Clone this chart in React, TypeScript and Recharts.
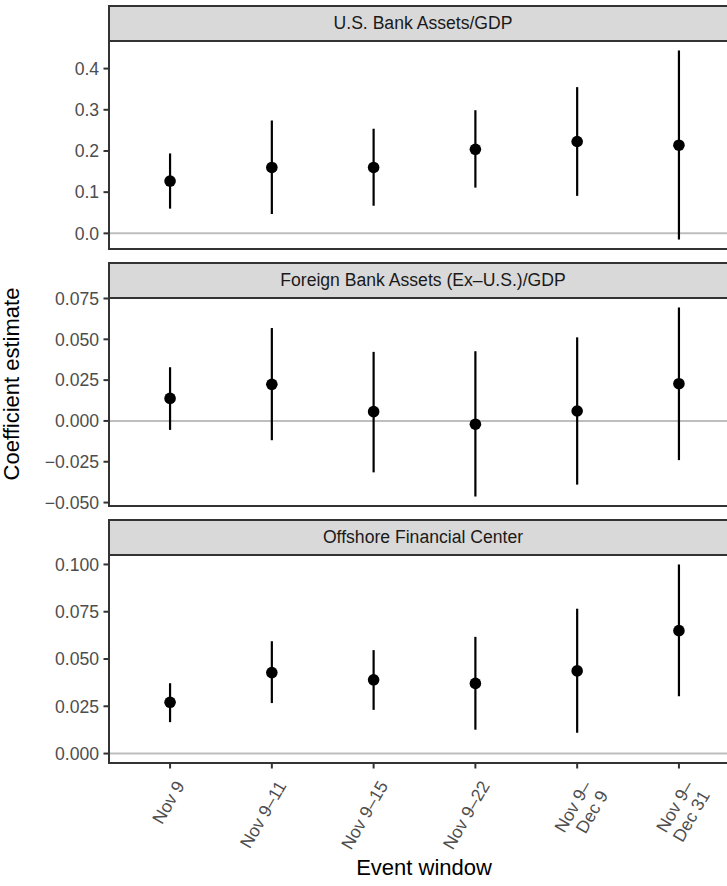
import React from 'react';
import {
  ScatterChart,
  Scatter,
  XAxis,
  YAxis,
  ErrorBar,
  ReferenceLine
} from 'recharts';

// event windows (x categories), "\n" marks a line break in the tick label
const windows = ['Nov 9', 'Nov 9–11', 'Nov 9–15', 'Nov 9–22', 'Nov 9–\nDec 9', 'Nov 9–\nDec 31'];

// U.S. bank assets / GDP
const usEst = [0.127, 0.16, 0.16, 0.204, 0.223, 0.214];
const usLow = [0.06, 0.047, 0.067, 0.111, 0.091, -0.015];
const usHigh = [0.194, 0.274, 0.254, 0.299, 0.355, 0.444];

// foreign bank assets (ex-U.S.) / GDP
const fbEst = [0.0138, 0.0224, 0.0057, -0.002, 0.0061, 0.0228];
const fbLow = [-0.0055, -0.0118, -0.0315, -0.0463, -0.039, -0.024];
const fbHigh = [0.0329, 0.0569, 0.0423, 0.0427, 0.0512, 0.0695];

// offshore financial center
const ofcEst = [0.0271, 0.0428, 0.039, 0.0371, 0.0437, 0.065];
const ofcLow = [0.0166, 0.0267, 0.0231, 0.0126, 0.011, 0.0303];
const ofcHigh = [0.0372, 0.0594, 0.0547, 0.0617, 0.0766, 0.1];

const usTicks = [0, 0.1, 0.2, 0.3, 0.4];
const fbTicks = [-0.05, -0.025, 0, 0.025, 0.05, 0.075];
const ofcTicks = [0, 0.025, 0.05, 0.075, 0.1];

const xTicks = [1, 2, 3, 4, 5, 6];

const SMALL = 17.6;
const BIG = 22;
const PLOT_LEFT = 109;
const CHART_W = 740;
const PLOT_H = 208;
const STRIP_H = 36;
const PAD = 14;

const makeRows = (est: number[], low: number[], high: number[]) =>
  est.map((e, i) => ({ x: i + 1, y: e, err: [e - low[i], high[i] - e] }));

const fmtMinus = (digits: number) => (v: number) => {
  const s = Math.abs(v).toFixed(digits);
  return v < 0 ? '\u2212' + s : s;
};

const PointShape = (props: any) => (
  <circle cx={props.cx} cy={props.cy} r={5.8} fill="#000" />
);

const XTick = (props: any) => {
  const { x, y, payload } = props;
  const lines = windows[payload.value - 1].split('\n');
  return (
    <g transform={`translate(${x + 2},${y + 5}) rotate(-60)`}>
      <text textAnchor="end" fill="#4D4D4D" fontSize={SMALL}>
        {lines.map((l, i) => (
          <tspan key={i} x={0} y={15 + i * 19}>
            {l}
          </tspan>
        ))}
      </text>
    </g>
  );
};

interface PanelProps {
  title: string;
  top: number;
  rows: Array<{ x: number; y: number; err: number[] }>;
  domain: [number, number];
  ticks: number[];
  digits: number;
  showX?: boolean;
}

const Panel: React.FC<PanelProps> = ({ title, top, rows, domain, ticks, digits, showX }) => {
  const plotTop = top + STRIP_H;
  const axisH = showX ? 100 : 0;
  return (
    <>
      <div
        style={{
          position: 'absolute',
          left: PLOT_LEFT - 1,
          top: top,
          width: 700,
          height: STRIP_H + 1,
          boxSizing: 'border-box',
          border: '2px solid #333333',
          background: '#D9D9D9',
          color: '#1A1A1A',
          fontSize: SMALL,
          display: 'flex',
          alignItems: 'center',
          justifyContent: 'center'
        }}
      >
        <span style={{ marginLeft: -70 }}>{title}</span>
      </div>
      <div style={{ position: 'absolute', left: 0, top: plotTop - PAD }}>
        <ScatterChart
          width={CHART_W}
          height={PLOT_H + PAD + (showX ? axisH : PAD)}
          margin={{ top: PAD, right: 0, bottom: showX ? 0 : PAD, left: 0 }}
        >
          <XAxis
            dataKey="x"
            type="number"
            domain={[0.4, 6.6]}
            ticks={xTicks}
            hide={!showX}
            height={axisH}
            axisLine={false}
            tickLine={{ stroke: '#333333', strokeWidth: 2 }}
            tickSize={5.5}
            tickMargin={4.4}
            tick={<XTick />}
            interval={0}
          />
          <YAxis
            dataKey="y"
            type="number"
            domain={domain}
            ticks={ticks}
            width={PLOT_LEFT}
            allowDataOverflow
            axisLine={false}
            tickLine={{ stroke: '#333333', strokeWidth: 2 }}
            tickSize={5.5}
            tickMargin={4.4}
            tickFormatter={fmtMinus(digits)}
            tick={{ fill: '#4D4D4D', fontSize: SMALL }}
            interval={0}
          />
          <ReferenceLine y={0} stroke="#BEBEBE" strokeWidth={2} />
          <Scatter data={rows} isAnimationActive={false} shape={<PointShape />}>
            <ErrorBar
              dataKey="err"
              direction="y"
              width={0}
              stroke="#000"
              strokeWidth={2.2}
              isAnimationActive={false}
            />
          </Scatter>
        </ScatterChart>
      </div>
      <div
        style={{
          position: 'absolute',
          left: PLOT_LEFT - 1,
          top: plotTop - 1,
          width: 700,
          height: PLOT_H + 2,
          boxSizing: 'border-box',
          border: '2px solid #333333',
          pointerEvents: 'none'
        }}
      />
    </>
  );
};

export default function App() {
  return (
    <div
      style={{
        position: 'absolute',
        left: 0,
        top: 0,
        width: 727,
        height: 886,
        overflow: 'hidden',
        background: '#fff',
        fontFamily: '"Liberation Sans", Arial, Helvetica, sans-serif'
      }}
    >
      <Panel
        title="U.S. Bank Assets/GDP"
        top={5}
        rows={makeRows(usEst, usLow, usHigh)}
        domain={[-0.038, 0.467]}
        ticks={usTicks}
        digits={1}
      />
      <Panel
        title="Foreign Bank Assets (Ex–U.S.)/GDP"
        top={262}
        rows={makeRows(fbEst, fbLow, fbHigh)}
        domain={[-0.0521, 0.0753]}
        ticks={fbTicks}
        digits={3}
      />
      <Panel
        title="Offshore Financial Center"
        top={519}
        rows={makeRows(ofcEst, ofcLow, ofcHigh)}
        domain={[-0.005, 0.105]}
        ticks={ofcTicks}
        digits={3}
        showX
      />
      <div
        style={{
          position: 'absolute',
          left: 12,
          top: 384,
          transform: 'translate(-50%, -50%) rotate(-90deg)',
          fontSize: BIG,
          whiteSpace: 'nowrap',
          lineHeight: 1
        }}
      >
        Coefficient estimate
      </div>
      <div
        style={{
          position: 'absolute',
          left: 424,
          top: 857,
          transform: 'translateX(-50%)',
          fontSize: BIG,
          whiteSpace: 'nowrap',
          lineHeight: 1
        }}
      >
        Event window
      </div>
    </div>
  );
}
